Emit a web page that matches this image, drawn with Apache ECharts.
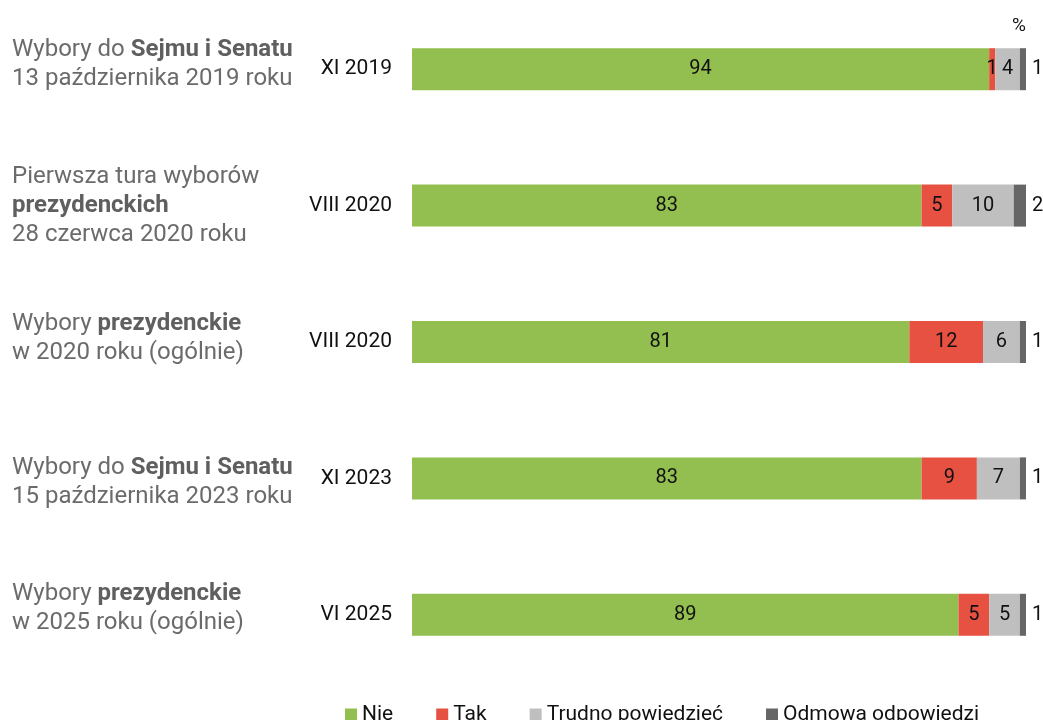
<!DOCTYPE html>
<html>
<head>
<meta charset="utf-8">
<script src="https://cdn.jsdelivr.net/npm/echarts@6/dist/echarts.min.js"></script>
<style>
  html, body { margin: 0; padding: 0; background: #fff; }
  #main { width: 1043px; height: 720px; }
</style>
</head>
<body>
<div id="main"></div>
<script>
var periods = ['XI 2019', 'VIII 2020', 'VIII 2020', 'XI 2023', 'VI 2025'];
// opis badania: [tekst, pogrubienie] w kolejnych liniach
var groups = [
    [[['Wybory do ', 0], ['Sejmu i Senatu', 1]], [['13 października 2019 roku', 0]]],
    [[['Pierwsza tura wyborów', 0]], [['prezydenckich', 1]], [['28 czerwca 2020 roku', 0]]],
    [[['Wybory ', 0], ['prezydenckie', 1]], [['w 2020 roku (ogólnie)', 0]]],
    [[['Wybory do ', 0], ['Sejmu i Senatu', 1]], [['15 października 2023 roku', 0]]],
    [[['Wybory ', 0], ['prezydenckie', 1]], [['w 2025 roku (ogólnie)', 0]]]
];
var groupShift = [-5, 0, -4, 4, -6];
var nie = [94, 83, 81, 83, 89];
var tak = [1, 5, 12, 9, 5];
var trudno = [4, 10, 6, 7, 5];
var odmowa = [1, 2, 1, 1, 1];

var idx = periods.map(function (p, i) { return String(i); });

var myChart = echarts.init(document.getElementById('main'));

function groupLabel(value, i) {
    return groups[i].map(function (line) {
        return line.map(function (part) {
            return '{' + (part[1] ? 'b' : 'n') + '|' + part[0] + '}';
        }).join('');
    }).join('\n');
}

function mkSeries(name, data, color, pos) {
    return {
        name: name,
        type: 'bar',
        stack: 'all',
        barWidth: 42,
        data: data,
        itemStyle: {color: color},
        label: {
            show: true,
            position: pos || 'inside',
            distance: 6,
            color: '#111',
            fontSize: 20,
            fontFamily: 'Roboto'
        }
    };
}

var option = {
    animation: false,
    title: {
        text: '%',
        right: 12,
        top: 12,
        textStyle: {fontSize: 19, fontWeight: 'normal', color: '#111', fontFamily: 'Roboto'}
    },
    legend: {
        left: 340,
        top: 699,
        itemWidth: 12,
        itemHeight: 12,
        itemGap: 43,
        icon: 'rect',
        textStyle: {fontSize: 21, color: '#111', fontFamily: 'Roboto'},
        data: ['Nie', 'Tak', 'Trudno powiedzieć', 'Odmowa odpowiedzi']
    },
    grid: {left: 412, right: 17, top: 1, height: 682, containLabel: false, outerBoundsMode: 'none'},
    xAxis: {type: 'value', min: 0, max: 100, show: false},
    yAxis: [{
        type: 'category',
        inverse: true,
        data: idx,
        axisLine: {show: false},
        axisTick: {show: false},
        axisLabel: {
            margin: 20,
            fontSize: 21,
            color: '#111',
            fontFamily: 'Roboto',
            formatter: function (v, i) { return periods[i]; }
        }
    }, {
        type: 'category',
        inverse: true,
        position: 'left',
        data: idx.map(function (v, i) {
            var s = groupShift[i];
            return {
                value: v,
                textStyle: {align: 'left', padding: s < 0 ? [0, 0, -2 * s, 0] : [2 * s, 0, 0, 0]}
            };
        }),
        axisLine: {show: false},
        axisTick: {show: false},
        axisLabel: {
            margin: 400,
            align: 'left',
            formatter: groupLabel,
            rich: {
                n: {fontSize: 24, color: '#6b6b6b', fontFamily: 'Roboto', lineHeight: 29, align: 'left'},
                b: {fontSize: 24, color: '#5f5f5f', fontWeight: 'bold', fontFamily: 'Roboto', lineHeight: 29, align: 'left'}
            }
        }
    }],
    series: [
        mkSeries('Nie', nie, '#92bf4f'),
        mkSeries('Tak', tak, '#e65142'),
        mkSeries('Trudno powiedzieć', trudno, '#bfbfbf'),
        mkSeries('Odmowa odpowiedzi', odmowa, '#666666', 'right')
    ]
};
myChart.setOption(option);
window.onresize = myChart.resize;
</script>
</body>
</html>
